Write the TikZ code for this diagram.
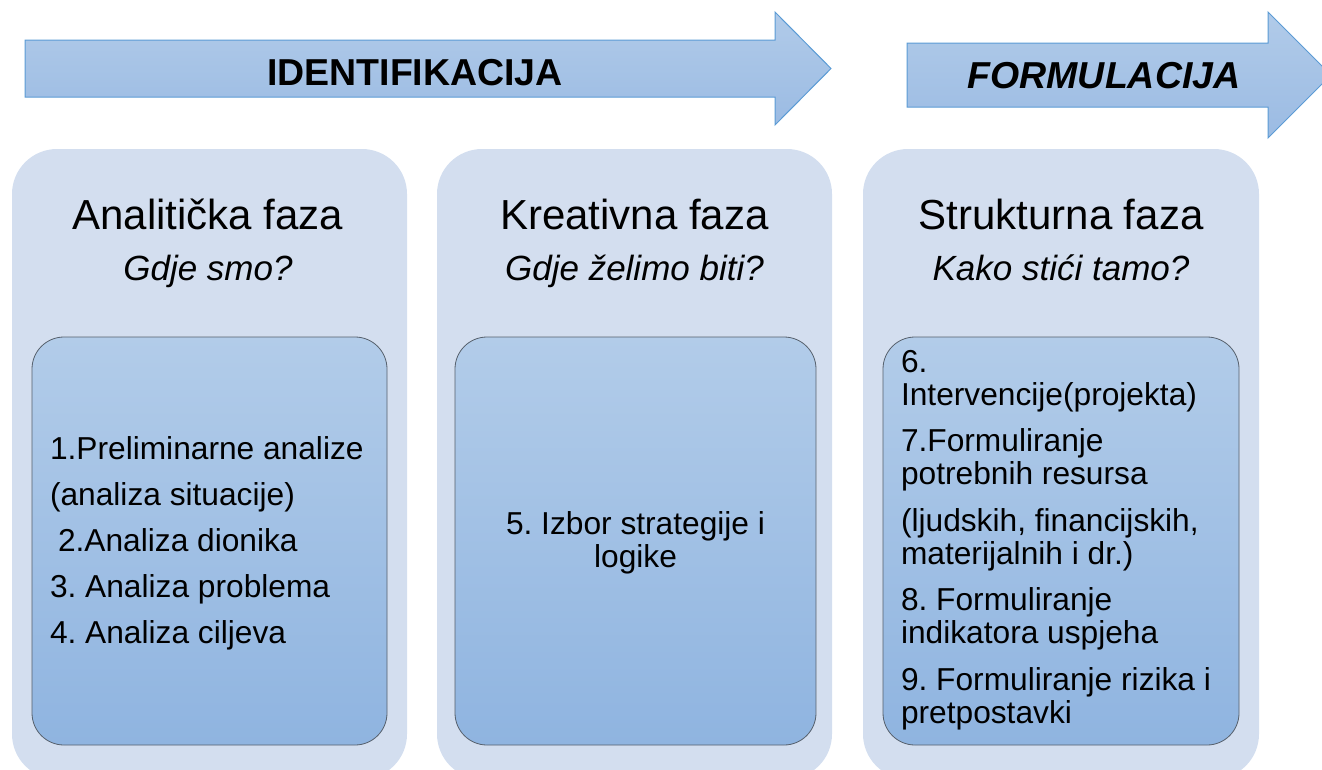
\documentclass[tikz,border=0pt]{standalone}
\usepackage{fontspec}
\setmainfont{Liberation Sans}
\frenchspacing
\usetikzlibrary{positioning}

\definecolor{panelfill}{HTML}{D3DEEF}
\definecolor{arrowtop}{HTML}{B1CBE9}
\definecolor{arrowbot}{HTML}{9BBBE3}
\definecolor{arrowline}{HTML}{5B9BD5}
\definecolor{boxtop}{HTML}{B2CCE9}
\definecolor{boxbot}{HTML}{8FB4E0}
\definecolor{boxline}{HTML}{56606C}

\begin{document}
\begin{tikzpicture}[x=1pt, y=-1pt,
    every node/.style = {inner sep=0pt, outer sep=0pt},
    phasearrow/.style = {draw=arrowline, line width=1pt,
      top color=arrowtop, bottom color=arrowbot},
    panel/.style = {shape=rectangle, rounded corners=45pt, fill=panelfill,
      anchor=north west, minimum width=395pt, minimum height=630pt},
    stepbox/.style = {shape=rectangle, rounded corners=32pt, draw=boxline,
      line width=0.8pt, top color=boxtop, bottom color=boxbot,
      anchor=north west, minimum height=408pt},
    arrowlabel/.style = {font=\fontsize{37.5}{40}\selectfont\bfseries, anchor=base},
    phasetitle/.style = {font=\fontsize{42}{46}\selectfont, anchor=base},
    question/.style = {font=\fontsize{35}{40}\selectfont\itshape, anchor=base},
    steptext/.style = {font=\fontsize{31.7}{33}\selectfont, align=left, anchor=base west}]
  \useasboundingbox (0,0) rectangle (1322,769);
  \clip (0,0) rectangle (1322,769);

  % arrows
  \draw[phasearrow] (25,40) -- (775,40) -- (775,12) -- (831,68.5)
    -- (775,125) -- (775,97) -- (25,97) -- cycle;
  \draw[phasearrow] (907,43) -- (1268,43) -- (1268,12) -- (1331,75)
    -- (1268,138) -- (1268,107) -- (907,107) -- cycle;
  \node[arrowlabel] (ident) at (415,85) {IDENTIFIKACIJA};
  \node[arrowlabel, font=\fontsize{37.5}{40}\selectfont\bfseries\itshape]
    (formul) at (1104,88) {FORMULACIJA};

  % panels
  \node[panel] (anal) at (12,149) {};
  \node[panel] (kreat) at (437,149) {};
  \node[panel, minimum width=396pt] (struk) at (863,149) {};

  \node[phasetitle] (analt) at (208,229) {Analitička faza};
  \node[question] (analq) at (208,280) {Gdje smo?};
  \node[phasetitle] (kreatt) at (634.5,229) {Kreativna faza};
  \node[question] (kreatq) at (634.5,280) {Gdje želimo biti?};
  \node[phasetitle] (strukt) at (1061,229) {Strukturna faza};
  \node[question] (strukq) at (1061,280) {Kako stići tamo?};

  % inner boxes
  \node[stepbox, minimum width=355pt] (analbox) at (32,337) {};
  \node[stepbox, minimum width=361pt] (kreatbox) at (455,337) {};
  \node[stepbox, minimum width=356pt] (strukbox) at (883,337) {};

  % multi-line text sits on its last baseline
  \node[steptext] (analsteps) at (50,643) {1.Preliminarne analize\\[13pt]
    (analiza situacije)\\[13pt]
    \hspace*{8pt}2.Analiza dionika\\[13pt]
    3. Analiza problema\\[13pt]
    4. Analiza ciljeva};
  \node[steptext, align=center, anchor=base] (kreatsteps) at (635.5,567)
    {5. Izbor strategije i\\logike};
  \node[steptext] (struksteps) at (901,723) {6.\\
    Intervencije(projekta)\\[13pt]
    7.Formuliranje\\
    potrebnih resursa\\[14pt]
    (ljudskih, financijskih,\\
    materijalnih i dr.)\\[13pt]
    8. Formuliranje\\
    indikatora uspjeha\\[14pt]
    9. Formuliranje rizika i\\
    pretpostavki};
\end{tikzpicture}
\end{document}
